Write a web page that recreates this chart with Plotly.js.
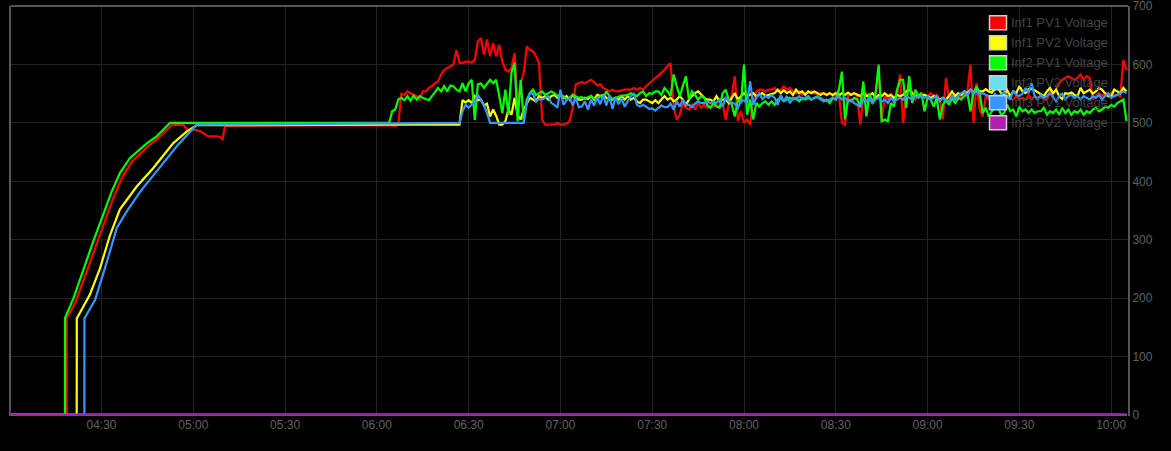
<!DOCTYPE html>
<html>
<head>
<meta charset="utf-8">
<script src="https://cdn.plot.ly/plotly-3.0.1.min.js"></script>
<style>
  html, body { margin: 0; padding: 0; background: #000; }
  #chart { width: 1171px; height: 451px; }
</style>
</head>
<body>
<div id="chart"></div>
<script>
// ---------- DATA ----------
const day = "2024-01-01 ";
const seriesNames = ["Inf1 PV1 Voltage", "Inf1 PV2 Voltage", "Inf2 PV1 Voltage",
                     "Inf2 PV2 Voltage", "Inf3 PV1 Voltage", "Inf3 PV2 Voltage"];
const seriesColors = ["#ff0000", "#ffff00", "#00ff00", "#66e0ec", "#3399ff", "#b020b0"];
const yTicks = [0, 100, 200, 300, 400, 500, 600, 700];

// start-up ramps (irregular timestamps)
const redRampTimes = ["04:00:00","04:18:36","04:18:37","04:21:18","04:27:54","04:31:06","04:33:54","04:36:42","04:40:00","04:45:12","04:48:30","04:52:54","04:56:42","04:58:00","05:00:00","05:02:12","05:04:54","05:07:36","05:08:42","05:09:36","05:10:24","06:04:00"];
const redRampValues = [0,0,166,190,285,330,372,406,434,460,474,496,497,489,489,486,477,477,476,472,495,496];

const yellowRampTimes = ["04:00:00","04:21:54","04:21:55","04:26:12","04:29:30","04:32:48","04:36:00","04:41:30","04:46:48","04:53:24","04:57:48","05:01:06","06:04:00"];
const yellowRampValues = [0,0,165,206,251,308,352,391,422,465,485,496,497];

const greenRampTimes = ["04:00:00","04:18:04","04:18:05","04:20:48","04:27:18","04:30:36","04:33:18","04:36:00","04:39:18","04:44:48","04:48:00","04:52:24","06:04:00"];
const greenRampValues = [0,0,166,199,297,343,382,414,440,465,477,500,500];

const blueRampTimes = ["04:00:00","04:24:24","04:24:25","04:27:54","04:31:06","04:35:00","04:38:12","04:42:36","04:48:00","04:54:36","05:01:06","06:04:00"];
const blueRampValues = [0,0,165,197,251,320,348,382,417,460,497,500];

const cyanTimes = ["04:00:00","10:05:00"];
const cyanValues = [0,0];
const purpleTimes = ["04:00:00","10:05:00"];
const purpleValues = [0,0];

// one value per minute from 06:05 onwards
const liveStart = "06:05";

const redLive = [
495,495,497,550,548,554,551,548,546,540,
554,554,560,563,568,571,583,591,594,597,
600,625,603,603,605,605,603,608,640,645,
617,643,614,637,614,634,605,591,588,594,
620,534,568,586,631,625,623,614,603,506,
497,497,497,497,500,497,497,499,503,526,
566,568,
570,568,571,574,570,564,566,560,557,554,
557,554,554,556,557,557,557,560,557,560,
557,563,568,573,577,581,586,591,598,602,
528,506,514,534,526,523,531,523,534,526,
531,526,528,528,531,526,534,506,531,548,
580,503,520,500,506,497,540,554,557,557,
554,557,
557,560,554,557,563,557,560,554,551,554,
548,552,551,554,550,550,551,551,548,551,
546,548,550,500,497,546,548,551,546,497,
546,551,540,534,551,586,506,546,540,551,
534,546,583,500,546,568,551,540,546,551,
548,546,551,546,548,540,506,577,540,546,
543,540,546,551,554,600,500,568,523,
511,546,540,539,540,546,540,546,548,543,
540,546,540,543,540,548,540,546,543,546,
540,540,554,548,557,568,574,577,580,577,
574,577,583,574,580,577,540,546,551,546,
551,548,551,546,548,546,608,590
];

const yellowLive = [
497,497,497,497,497,497,497,497,497,497,
497,497,497,497,497,497,497,497,497,497,
497,497,497,539,535,539,534,546,539,540,
530,533,511,523,512,497,497,503,523,514,
543,514,506,523,533,543,540,537,546,543,
546,540,546,548,543,548,543,546,540,548,
543,540,
540,543,541,546,540,548,546,548,543,540,
540,543,540,546,540,546,540,543,537,534,
540,540,537,534,539,534,540,546,540,543,
537,540,546,540,531,540,546,551,554,548,
543,540,540,537,546,537,540,540,534,543,
551,540,546,551,546,548,551,546,548,551,
546,548,
550,551,557,551,556,551,554,548,557,551,
554,548,554,551,554,551,548,551,548,551,
548,551,547,551,548,552,548,551,548,546,
551,546,548,551,543,548,546,551,546,548,
543,548,546,548,554,557,551,546,548,546,
548,546,543,546,543,540,543,540,546,554,
546,551,548,554,551,557,552,556,554,
554,558,554,552,558,560,551,548,556,546,
554,551,563,554,551,558,558,556,553,550,
546,554,560,551,557,546,541,551,550,552,
548,546,560,551,554,557,550,554,560,557,
551,546,546,557,554,551,560,554
];

const greenLive = [
520,523,540,543,539,546,538,547,540,546,
543,541,539,546,554,560,554,563,554,564,
563,557,554,568,554,568,574,505,566,568,
560,568,574,568,574,546,517,557,514,586,
603,503,574,503,540,551,557,548,551,554,
548,551,554,551,546,548,546,540,543,548,
546,543,
544,541,544,546,542,540,546,543,554,546,
541,543,546,547,547,548,551,548,546,551,
554,546,551,550,554,554,548,560,554,546,
583,563,546,563,580,540,554,548,540,546,
543,531,526,534,528,526,551,557,540,531,
511,540,534,600,514,540,506,534,528,534,
537,531,
537,531,540,543,537,540,543,540,543,537,
543,540,543,540,543,544,543,537,540,534,
543,540,557,588,506,540,537,543,540,528,
571,511,551,534,551,600,503,506,503,534,
528,557,574,574,526,580,534,557,546,551,
520,543,540,528,543,506,531,540,531,543,
534,543,540,546,551,520,551,563,551,
517,526,511,520,526,528,514,517,531,520,
523,511,528,520,523,517,523,517,520,520,
526,514,520,517,523,514,526,517,523,514,
520,517,523,514,520,517,523,526,520,523,
528,526,531,528,534,537,540,503
];

const blueLive = [
500,500,500,500,500,500,500,500,500,500,
500,500,500,500,500,500,500,500,500,500,
500,500,500,520,531,526,531,537,548,540,
530,517,500,500,500,500,500,500,500,500,
500,500,500,500,534,551,550,537,541,540,
543,546,534,531,526,557,531,539,543,530,
543,527,
528,537,523,540,530,544,532,548,530,547,
524,544,532,542,528,537,546,550,531,528,
531,528,524,525,521,526,530,527,527,533,
523,537,528,540,531,531,527,533,537,534,
534,537,534,537,534,540,528,543,537,535,
533,526,537,539,534,571,531,543,551,541,
546,543,
548,543,531,548,537,546,534,543,540,546,
540,543,546,540,543,546,540,540,537,540,
543,540,546,540,543,537,540,534,531,528,
540,537,543,534,540,543,537,540,534,543,
537,540,543,540,546,543,540,546,543,546,
543,546,540,543,546,537,543,540,537,546,
540,546,551,554,546,557,551,554,548,
551,548,546,543,550,546,548,553,546,540,
556,548,546,550,560,551,568,546,540,548,
543,546,551,543,537,546,550,540,546,548,
543,546,540,546,543,540,546,543,548,540,
546,551,543,546,548,551,554,551
];

// ---------- BUILD ----------
function pad(n) { return (n < 10 ? "0" : "") + n; }
function stamp(hms) { return day + (hms.length === 5 ? hms + ":00" : hms); }
function liveTimes(n) {
  const [h, m] = liveStart.split(":").map(Number);
  const out = [];
  for (let i = 0; i < n; i++) {
    const t = h * 60 + m + i;
    out.push(day + pad(Math.floor(t / 60)) + ":" + pad(t % 60) + ":00");
  }
  return out;
}
function series(rampTimes, rampValues, live) {
  const x = rampTimes.map(stamp);
  const y = rampValues.slice();
  if (live) { x.push(...liveTimes(live.length)); y.push(...live); }
  return { x, y };
}

const built = [
  series(redRampTimes, redRampValues, redLive),
  series(yellowRampTimes, yellowRampValues, yellowLive),
  series(greenRampTimes, greenRampValues, greenLive),
  series(cyanTimes, cyanValues, null),
  series(blueRampTimes, blueRampValues, blueLive),
  series(purpleTimes, purpleValues, null)
];

const traces = built.map((s, i) => ({
  type: "scatter", mode: "lines", name: seriesNames[i],
  x: s.x, y: s.y,
  line: { color: seriesColors[i], width: i === 5 ? 2.5 : 2.2 },
  hoverinfo: "skip"
}));

// plot area in pixels (for the hand-drawn legend)
const PL = 11, PR = 1128, PT = 6, PB = 416;
const px = v => (v - PL) / (PR - PL);
const py = v => (PB - v) / (PB - PT);

const shapes = [
  { type: "line", xref: "paper", yref: "paper", x0: 0, x1: 1, y0: 1, y1: 1,
    line: { color: "#555", width: 2 }, layer: "above" }
];
const annotations = [];
seriesNames.forEach((name, i) => {
  const cy = 22.8 + 20 * i;
  shapes.push({ type: "rect", xref: "paper", yref: "paper",
    x0: px(989.5), x1: px(1006.5), y0: py(cy + 7), y1: py(cy - 7),
    fillcolor: seriesColors[i], line: { color: "#cfcfcf", width: 1.5 }, layer: "above" });
  annotations.push({ xref: "paper", yref: "paper", x: px(1009), y: py(cy),
    xanchor: "left", yanchor: "middle", showarrow: false, text: name,
    font: { size: 13, color: "#444" } });
});

const layout = {
  width: 1171, height: 451,
  paper_bgcolor: "#000", plot_bgcolor: "#000",
  margin: { l: PL, r: 1171 - PR, t: PT, b: 451 - PB },
  showlegend: false,
  font: { family: '"Liberation Sans", Arial, sans-serif', size: 12, color: "#606060" },
  xaxis: {
    type: "date",
    range: [day + "04:00:25", day + "10:05:30"],
    tick0: day + "04:30:00", dtick: 1800000, tickformat: "%H:%M",
    showgrid: true, gridcolor: "#222", gridwidth: 1,
    showline: false, zeroline: false, ticks: "",
    tickfont: { size: 12, color: "#606060" }
  },
  yaxis: {
    side: "right", range: [-2, 700.3],
    tickmode: "array", tickvals: yTicks, ticktext: yTicks.map(String),
    ticklabeloverflow: "allow",
    showgrid: true, gridcolor: "#222", gridwidth: 1,
    showline: true, mirror: true, linecolor: "#555", linewidth: 2,
    zeroline: false, ticks: "",
    tickfont: { size: 12, color: "#606060" }
  },
  shapes, annotations
};

Plotly.newPlot("chart", traces, layout, { staticPlot: true, displayModeBar: false });
</script>
</body>
</html>
